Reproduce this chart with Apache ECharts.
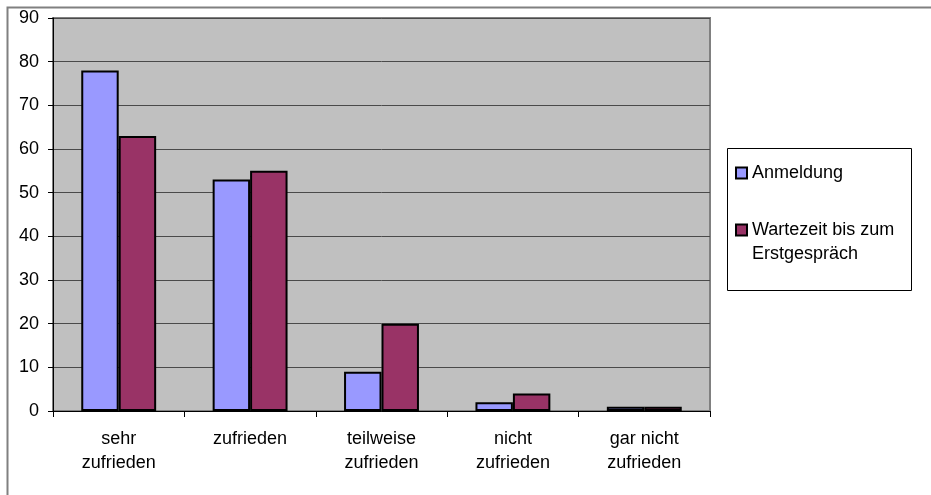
<!DOCTYPE html>
<html>
<head>
<meta charset="utf-8">
<script src="https://cdn.jsdelivr.net/npm/echarts@6/dist/echarts.min.js"></script>
<style>
html,body{margin:0;padding:0;background:#fff;}
#chart{width:931px;height:495px;}
</style>
</head>
<body>
<div id="chart"></div>
<script>
const categories = ['sehr\nzufrieden', 'zufrieden', 'teilweise\nzufrieden', 'nicht\nzufrieden', 'gar nicht\nzufrieden'];
const seriesNames = ['Anmeldung', 'Wartezeit bis zum Erstgespräch'];
const anmeldung = [78, 53, 9, 2, 1];
const wartezeit = [63, 55, 20, 4, 1];
const yTicks = { min: 0, max: 90, interval: 10 };

const FONT = 'Liberation Sans, Arial, sans-serif';
const FS = 18;
const chart = echarts.init(document.getElementById('chart'));
chart.setOption({
  animation: false,
  backgroundColor: '#ffffff',
  textStyle: { fontFamily: FONT },
  grid: {
    left: 53, right: 221, top: 18, bottom: 84,
    show: true, backgroundColor: '#c0c0c0', borderColor: '#808080', borderWidth: 2
  },
  graphic: [
    { type: 'polyline', z: 0, shape: { points: [[7.5, 495], [7.5, 7.5], [931, 7.5]] },
      style: { stroke: '#808080', lineWidth: 2, fill: null } },
    { type: 'rect', z: 1, shape: { x: 727.5, y: 148.5, width: 184, height: 142 },
      style: { stroke: '#000', lineWidth: 1, fill: '#fff' } }
  ],
  legend: [
    {
      data: [seriesNames[0]], left: 735, top: 161, padding: 0, orient: 'vertical',
      icon: 'rect', itemWidth: 11, itemHeight: 11, itemGap: 0, z: 10,
      textStyle: { fontSize: FS, color: '#000', fontFamily: FONT, lineHeight: 24 }
    },
    {
      data: [seriesNames[1]], left: 735, top: 194, padding: 0, orient: 'vertical',
      icon: 'rect', itemWidth: 11, itemHeight: 11, itemGap: 0, z: 10,
      formatter: function (n) { return '\nWartezeit bis zum\nErstgespräch'; },
      textStyle: { fontSize: FS, color: '#000', fontFamily: FONT, lineHeight: 24 }
    }
  ],
  xAxis: {
    type: 'category',
    data: categories,
    boundaryGap: true,
    axisLine: { lineStyle: { color: '#000', width: 1 } },
    axisTick: { show: true, length: 6, lineStyle: { color: '#000' } },
    axisLabel: { color: '#000', fontSize: FS, fontFamily: FONT, lineHeight: 24, margin: 16, interval: 0 },
    splitLine: { show: false }
  },
  yAxis: {
    type: 'value',
    min: yTicks.min, max: yTicks.max, interval: yTicks.interval,
    axisLine: { show: true, lineStyle: { color: '#000', width: 1 } },
    axisTick: { show: true, length: 5, lineStyle: { color: '#000' } },
    axisLabel: { color: '#000', fontSize: FS, fontFamily: FONT, margin: 14 },
    splitLine: { show: true, lineStyle: { color: '#4a4a4a', width: 1 } }
  },
  series: [
    {
      name: seriesNames[0], type: 'bar', data: anmeldung,
      barGap: '0%', barCategoryGap: '43%',
      itemStyle: { color: '#9999ff', borderColor: '#000', borderWidth: 2 }
    },
    {
      name: seriesNames[1], type: 'bar', data: wartezeit,
      barGap: '0%', barCategoryGap: '43%',
      itemStyle: { color: '#993366', borderColor: '#000', borderWidth: 2 }
    }
  ]
});
</script>
</body>
</html>
